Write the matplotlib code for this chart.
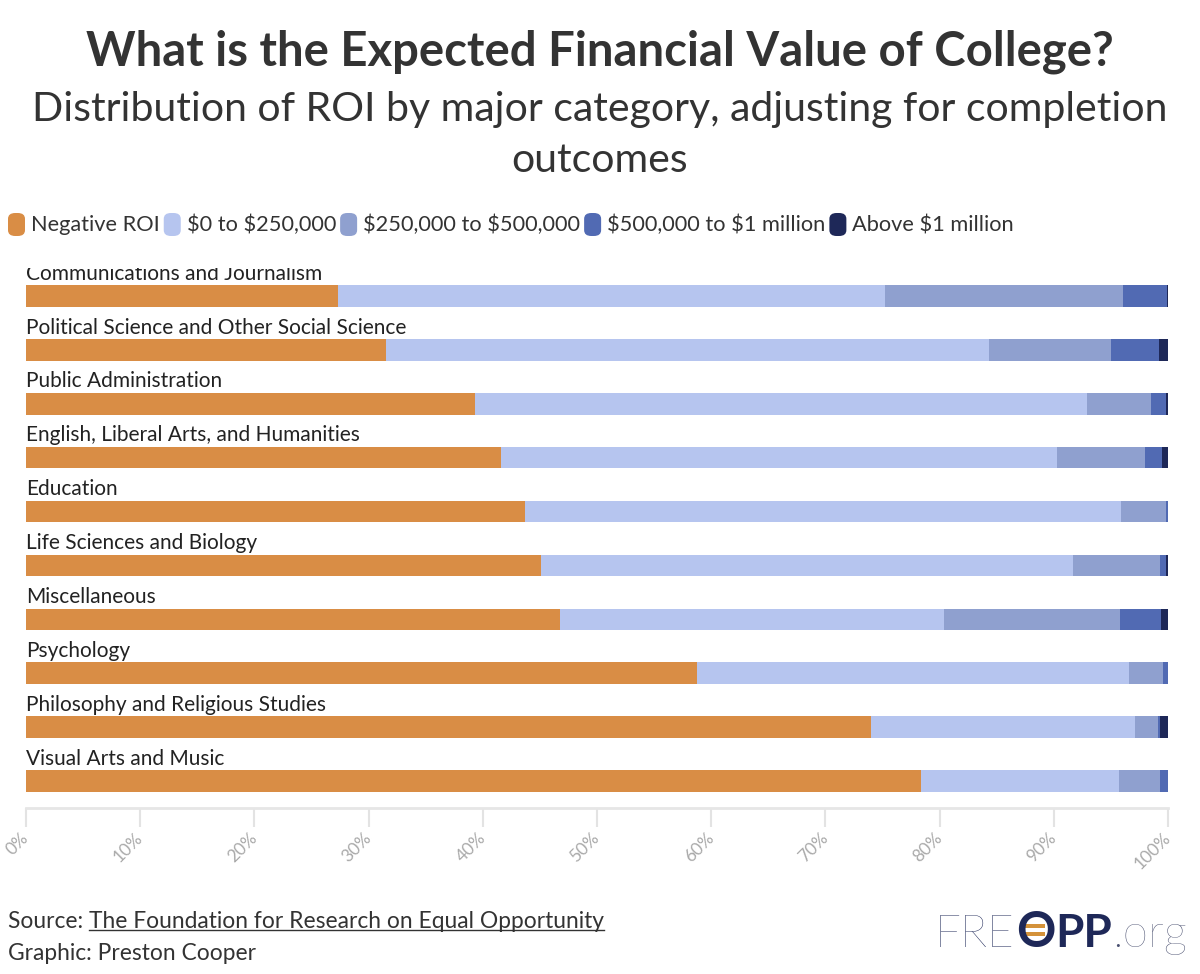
import matplotlib.pyplot as plt
from matplotlib.patches import FancyBboxPatch, Rectangle
from matplotlib.lines import Line2D
import numpy as np

plt.rcParams['font.family'] = ['Lato', 'DejaVu Sans']

# data (percent of students in each ROI bucket)
categories = ['Communications and Journalism',
              'Political Science and Other Social Science',
              'Public Administration',
              'English, Liberal Arts, and Humanities',
              'Education',
              'Life Sciences and Biology',
              'Miscellaneous',
              'Psychology',
              'Philosophy and Religious Studies',
              'Visual Arts and Music']
negative = [27.3, 31.5, 39.3, 41.6, 43.7, 45.1, 46.8, 58.8, 74.0, 78.4]
to_250k = [47.9, 52.8, 53.6, 48.7, 52.2, 46.6, 33.6, 37.8, 23.1, 17.3]
to_500k = [20.9, 10.7, 5.6, 7.7, 3.9, 7.6, 15.4, 3.0, 2.0, 3.6]
to_1m = [3.8, 4.2, 1.3, 1.5, 0.2, 0.5, 3.6, 0.4, 0.2, 0.7]
above_1m = [0.1, 0.8, 0.2, 0.5, 0.0, 0.2, 0.6, 0.0, 0.7, 0.0]

series_names = ['Negative ROI', r'\$0 to \$250,000', r'\$250,000 to \$500,000',
                r'\$500,000 to \$1 million', r'Above \$1 million']
colors = ['#D98D45', '#B6C5EF', '#8FA0CF', '#516AB3', '#1E2858']
tick_labels = ['0%', '10%', '20%', '30%', '40%', '50%', '60%', '70%', '80%', '90%', '100%']

W, H = 1200, 974
fig = plt.figure(figsize=(W / 100, H / 100), dpi=100)
fig.patch.set_facecolor('white')

def fx(px):
    return px / W

def fy(py):
    return 1 - py / H

# title / subtitle
fig.text(0.5, fy(52), 'What is the Expected Financial Value of College?',
         ha='center', va='center', fontsize=34, fontweight='bold', color='#333333')
fig.text(0.5, fy(109), 'Distribution of ROI by major category, adjusting for completion',
         ha='center', va='center', fontsize=29.5, color='#333333')
fig.text(0.5, fy(160), 'outcomes', ha='center', va='center', fontsize=29.5, color='#333333')

# main axes
ax = fig.add_axes([fx(26), fy(808), fx(1168) - fx(26), fy(268) - fy(808)])
y = np.arange(len(categories))
left = np.zeros(len(categories))
for vals, col in zip([negative, to_250k, to_500k, to_1m, above_1m], colors):
    ax.barh(y, vals, left=left, height=0.4, color=col, linewidth=0)
    left = left + np.array(vals)

for i, cat in enumerate(categories):
    ax.text(0, i - 0.23, cat, ha='left', va='bottom', fontsize=15,
            color='#222222', clip_on=True)

ax.set_xlim(0, 100)
ax.set_ylim(len(categories) - 0.5, -0.52)
ax.set_yticks([])
ax.set_xticks(np.arange(0, 101, 10))
ax.set_xticklabels(tick_labels, rotation=45, ha='right', va='center',
                   rotation_mode='anchor', color='#AAAAAA', fontsize=12.5)
ax.tick_params(axis='x', length=14, width=1.5, color='#E3E3E3', pad=6)
for s in ['top', 'left', 'right']:
    ax.spines[s].set_visible(False)
ax.spines['bottom'].set_color('#E6E6E6')
ax.spines['bottom'].set_linewidth(2)

renderer = fig.canvas.get_renderer()

# legend
x = 8
for name, col in zip(series_names, colors):
    box = FancyBboxPatch((fx(x), fy(236)), fx(17), fy(213) - fy(236),
                         boxstyle='round,pad=0,rounding_size=0.006',
                         transform=fig.transFigure, facecolor=col, edgecolor='none')
    fig.patches.append(box)
    t = fig.text(fx(x + 23), fy(225), name, ha='left', va='center',
                 fontsize=15.7, color='#333333')
    bb = t.get_window_extent(renderer)
    x = bb.x1 + 4

# source
t1 = fig.text(fx(8), fy(922), 'Source: ', ha='left', va='center', fontsize=16.4, color='#333333')
bb = t1.get_window_extent(renderer)
t2 = fig.text(bb.x1 / W, fy(922), 'The Foundation for Research on Equal Opportunity',
              ha='left', va='center', fontsize=16.4, color='#333333')
bb2 = t2.get_window_extent(renderer)
fig.lines.append(Line2D([bb2.x0 / W, bb2.x1 / W], [(bb2.y0 + 3) / H] * 2,
                        transform=fig.transFigure, color='#333333', linewidth=1))
fig.text(fx(8), fy(954), 'Graphic: Preston Cooper', ha='left', va='center',
         fontsize=16.4, color='#333333')

# logo
navy = '#1E2858'
base = fy(947)
lx = 935
l1 = fig.text(fx(lx), base, 'FRE', ha='left', va='baseline', fontsize=33,
              fontweight='light', color=navy)
b = l1.get_window_extent(renderer)
l2 = fig.text(b.x1 / W + fx(1), base, 'O', ha='left', va='baseline', fontsize=35,
              fontweight='bold', color=navy)
bo = l2.get_window_extent(renderer)
l3 = fig.text(bo.x1 / W, base, 'PP', ha='left', va='baseline', fontsize=33,
              fontweight='bold', color=navy)
bp = l3.get_window_extent(renderer)
fig.text(bp.x1 / W, base, '.org', ha='left', va='baseline', fontsize=33,
         fontweight='light', color='#4A5070')
ocx = (bo.x0 + bo.x1) / 2
ocy = H - 947 + 17
for dy in (-6, 2):
    fig.patches.append(Rectangle(((ocx - 10) / W, (ocy + dy) / H), 20 / W, 4 / H,
                                 transform=fig.transFigure, facecolor='#D4923A',
                                 edgecolor='none'))

fig.savefig('out.png', dpi=100, facecolor='white')
